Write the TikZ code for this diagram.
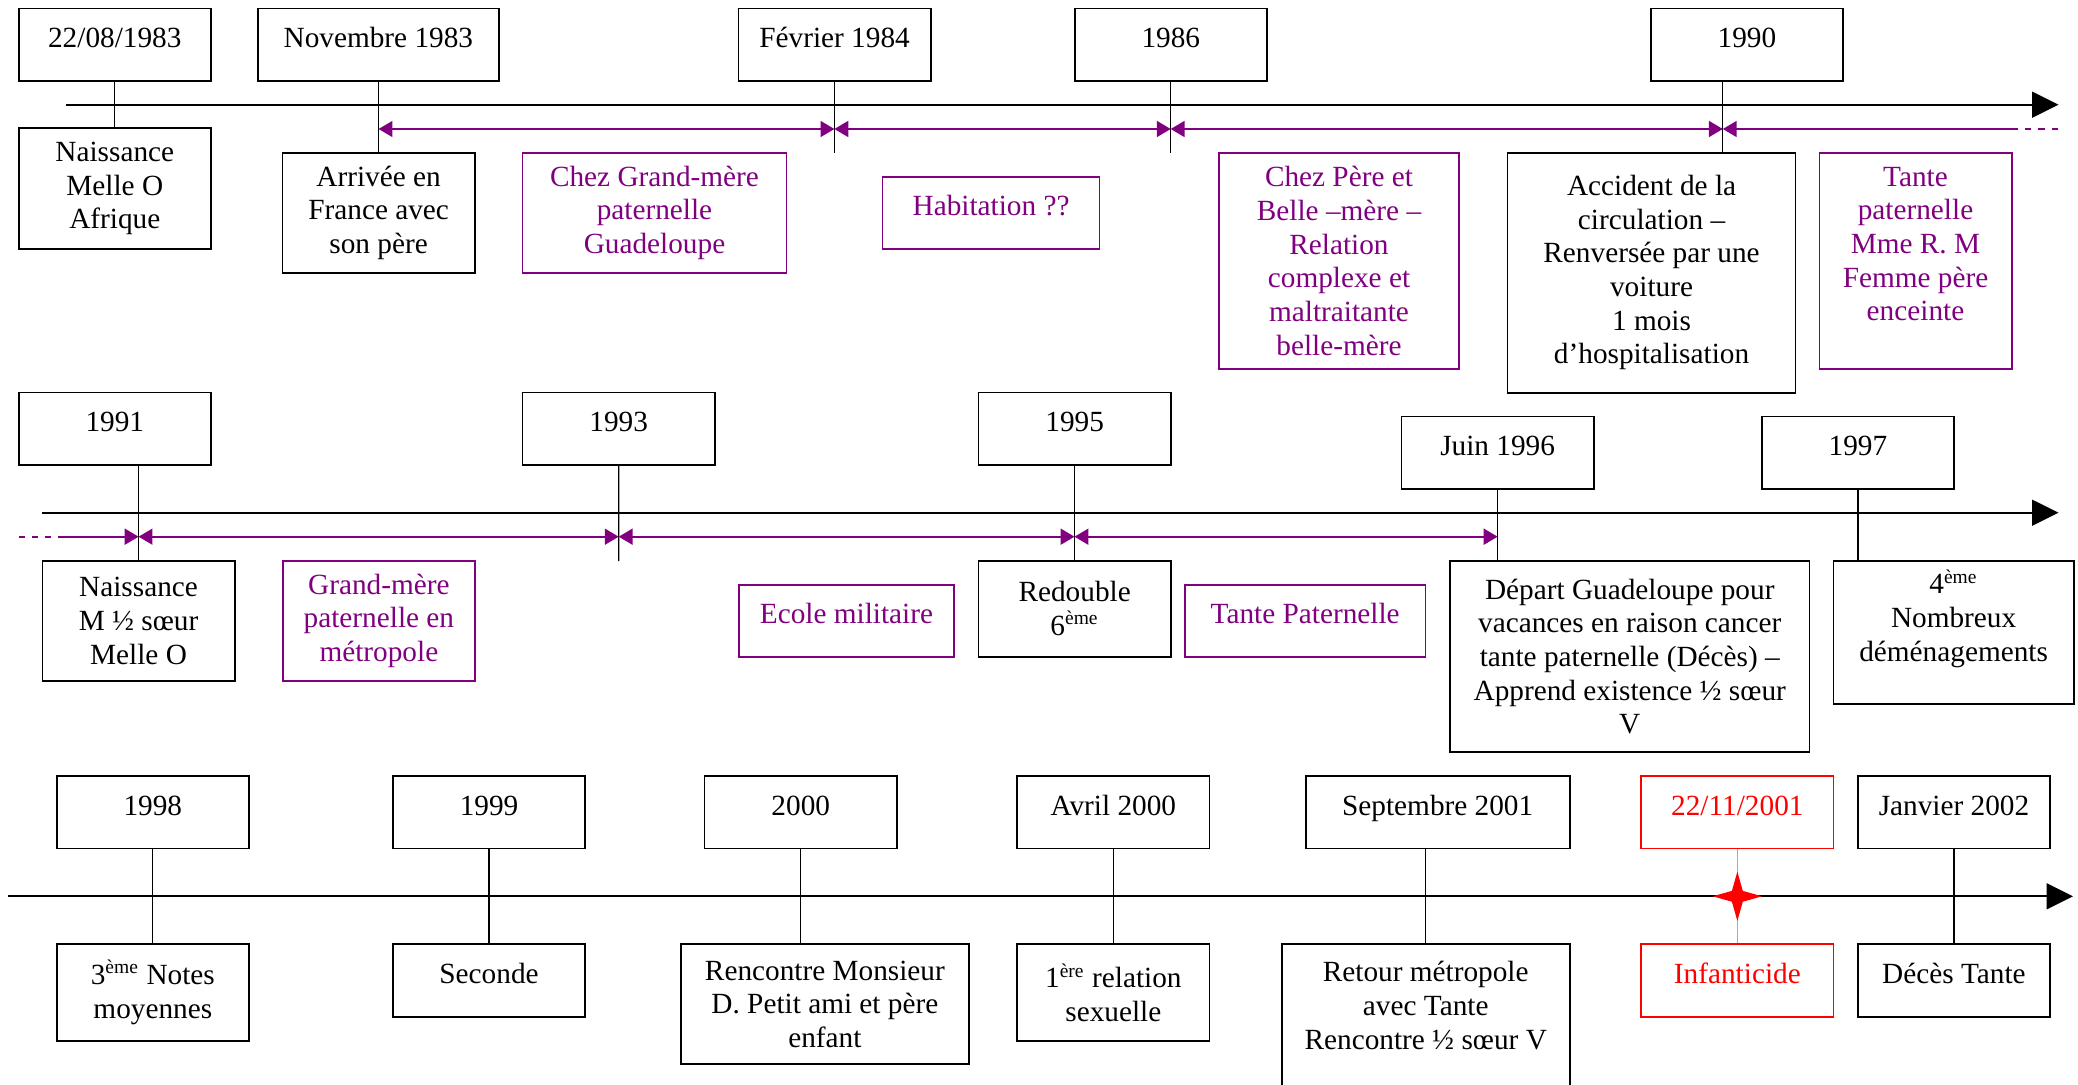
\documentclass[tikz,border=0pt]{standalone}
\usepackage{fontspec}
\setmainfont{Liberation Serif}
\usetikzlibrary{arrows.meta,shapes.geometric}
\definecolor{prune}{RGB}{128,0,128}
\definecolor{ambre}{RGB}{240,160,50}

\begin{document}
\begin{tikzpicture}[x=0.0144cm, y=-0.0144cm, >={Triangle[length=0.2cm,width=0.23cm]},
  boite/.style={draw, line width=0.7pt, align=center, inner sep=1pt, minimum width=2.77cm, font=\fontsize{12}{13.8}\selectfont},
  une/.style={text depth=0.2cm},
  date/.style={boite, une, minimum height=1.045cm},
  sejour/.style={draw=prune, text=prune},
  rouge/.style={draw=red, text=red},
  trait/.style={line width=0.5pt},
  axe/.style={line width=0.9pt, -{Triangle[length=0.38cm,width=0.37cm]}},
  periode/.style={color=prune, line width=0.7pt},
  tirets/.style={periode, dash pattern=on 0.09cm off 0.1cm}]
\useasboundingbox (0,0) rectangle (2078,1085);
\clip (0,0) rectangle (2078,1085);

% axes
\coordinate (o1) at (66.3,104.7);  \coordinate (o2) at (2058.5,104.7);
\coordinate (o3) at (41.8,512.7);  \coordinate (o4) at (2058.5,512.7);
\coordinate (o5) at (8,896.3);     \coordinate (o6) at (2073,896.3);
\draw[axe] (o1) -- (o2);
\draw[axe] (o3) -- (o4);
\draw[axe] (o5) -- (o6);

% 1983 - 1990
\node[date] (a1) at (114.8,44.75) {22/08/1983};
\node[date, minimum width=3.466cm] (a2) at (378.35,44.75) {Novembre 1983};
\node[date] (a3) at (834.55,44.75) {Février 1984};
\node[date] (a4) at (1170.8,44.75) {1986};
\node[date] (a5) at (1746.95,44.75) {1990};

\node[boite, minimum height=1.734cm] (b1) at (114.8,188.5) {Naissance\\Melle O\\Afrique};
\node[boite, minimum height=1.732cm] (b2) at (378.65,212.85) {Arrivée en\\France avec\\son père};
\node[boite, sejour, minimum width=3.802cm, minimum height=1.732cm] (p1) at (654.5,212.85) {Chez Grand-mère\\paternelle\\Guadeloupe};
\node[boite, sejour, une, minimum width=3.125cm, minimum height=1.037cm] (p2) at (991.1,212.7) {Habitation ??};
\node[boite, sejour, minimum width=3.462cm, minimum height=3.115cm] (p3) at (1339,260.85) {Chez Père et\\Belle –mère –\\Relation\\complexe et\\maltraitante\\belle-mère};
\node[boite, minimum width=4.149cm, minimum height=3.456cm] (b3) at (1651.55,272.7) {Accident de la\\circulation –\\Renversée par une\\voiture\\1 mois\\d’hospitalisation};
\node[boite, sejour, minimum height=3.115cm] (p4) at (1915.5,260.85) {Tante\\paternelle\\Mme R. M\\Femme père\\enceinte\\ \mbox{}};

\coordinate (r1) at (378.6,129);  \coordinate (r2) at (834.4,129);
\coordinate (r3) at (1170.7,129); \coordinate (r4) at (1722.8,129);
\coordinate (r5) at (2012,129);   \coordinate (r6) at (2060,129);
\coordinate (k1) at (834.55,153); \coordinate (k2) at (1170.8,153);

\path[trait]
(a1) edge (b1)
(a2) edge (a2 |- b2.north)
(a3) edge (k1)
(a4) edge (k2)
(r4 |- a5.south) edge (r4 |- b3.north)
;
\path[periode, <->]
(r1) edge (r2)
(r2) edge (r3)
(r3) edge (r4)
;
\draw[periode, <-] (r4) -- (r5);
\draw[tirets] (r5) -- (r6);

% 1991 - 1997
\node[date] (c1) at (114.8,428.85) {1991};
\node[date] (c2) at (618.65,428.85) {1993};
\node[date] (c3) at (1074.65,428.85) {1995};
\node[date] (c4) at (1497.6,452.85) {Juin 1996};
\node[date] (c5) at (1857.9,452.85) {1997};

\node[boite, minimum height=1.732cm] (d1) at (138.55,620.85) {Naissance\\M ½ sœur\\Melle O};
\node[boite, sejour, minimum height=1.732cm] (q1) at (378.9,620.85) {Grand-mère\\paternelle en\\métropole};
\node[boite, sejour, une, minimum width=3.103cm, minimum height=1.037cm] (q2) at (846.45,620.7) {Ecole militaire};
\node[boite, minimum height=1.382cm] (d2) at (1074.65,608.7) {Redouble\\6\textsuperscript{ème}};
\node[boite, sejour, une, minimum width=3.462cm, minimum height=1.037cm] (q3) at (1305.2,620.7) {Tante Paternelle};
\node[boite, minimum width=5.177cm, minimum height=2.759cm] (d3) at (1629.75,656.5) {Départ Guadeloupe pour\\vacances en raison cancer\\tante paternelle (Décès) –\\Apprend existence ½ sœur\\V};
\node[boite, minimum width=3.462cm, minimum height=2.064cm] (d4) at (1953.6,632.35) {4\textsuperscript{ème}\\Nombreux\\déménagements\\ \mbox{}};

\coordinate (s0) at (18.6,536.7);  \coordinate (s1) at (60,536.7);
\coordinate (s2) at (138.6,536.7); \coordinate (s3) at (618.7,536.7);
\coordinate (s4) at (1074.5,536.7); \coordinate (s5) at (1497.6,536.7);
\coordinate (k3) at (618.7,561);

\path[trait]
(c1.south -| d1) edge (d1)
(c2) edge (k3)
(c3) edge (d2)
(c4) edge (c4 |- d3.north)
(c5) edge (c5 |- d4.north)
;
\draw[tirets] (s0) -- (s1);
\draw[periode, ->] (s1) -- (s2);
\path[periode, <->]
(s2) edge (s3)
(s3) edge (s4)
(s4) edge (s5)
;

% 1998 - 2002
\node[date] (e1) at (152.85,812.35) {1998};
\node[date] (e2) at (489.05,812.35) {1999};
\node[date] (e3) at (800.75,812.35) {2000};
\node[date] (e4) at (1113.35,812.35) {Avril 2000};
\node[date, minimum width=3.804cm] (e5) at (1437.7,812.35) {Septembre 2001};
\node[date, rouge] (e6) at (1737.35,812.35) {22/11/2001};
\node[date] (e7) at (1953.95,812.35) {Janvier 2002};

\node[boite, minimum height=1.388cm] (f1) at (152.85,992.5) {3\textsuperscript{ème} Notes\\moyennes};
\node[boite, une, minimum height=1.043cm] (f2) at (489.05,980.5) {Seconde};
\node[boite, minimum width=4.144cm, minimum height=1.728cm] (f3) at (824.9,1004.3) {Rencontre Monsieur\\D. Petit ami et père\\enfant};
\node[boite, minimum height=1.388cm] (f4) at (1113.35,992.5) {1\textsuperscript{ère} relation\\sexuelle};
\node[boite, minimum width=4.149cm, minimum height=2.242cm] (f5) at (1425.75,1022.15) {Retour métropole\\avec Tante\\Rencontre ½ sœur V\\ \mbox{}};
\node[boite, rouge, une, minimum height=1.043cm] (f6) at (1737.35,980.5) {Infanticide};
\node[boite, une, minimum height=1.043cm] (f7) at (1953.95,980.5) {Décès Tante};

\path[trait]
(e1) edge (f1)
(e2) edge (f2)
(e3) edge (e3 |- f3.north)
(e4) edge (f4)
(e5.south -| f5) edge (f5)
(e7) edge (f7)
;
\draw[trait, ambre] (e6) -- (f6);
\node[star, star points=4, star point ratio=3.2, fill=red, inner sep=0pt, minimum size=0.71cm] (eclat) at (e6 |- o5) {};
\end{tikzpicture}
\end{document}
